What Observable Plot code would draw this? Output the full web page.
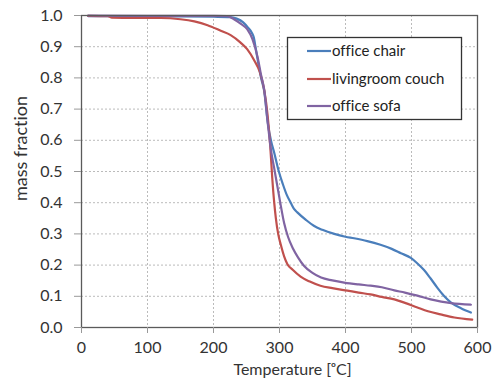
<!DOCTYPE html>
<html><head><meta charset="utf-8">
<script src="https://cdn.jsdelivr.net/npm/d3@7"></script>
<script src="https://cdn.jsdelivr.net/npm/@observablehq/plot@0.6"></script>
<style>body{margin:0;background:#fff} svg text{font-variant-ligatures:none;}</style>
</head><body><div id="chart"></div>
<script>
const seriesNames = ["office chair", "livingroom couch", "office sofa"];
const seriesColors = ["#4a7ebb", "#c0504d", "#8064a2"];
const xTicks = [0, 100, 200, 300, 400, 500, 600];
const yTicks = [0, 0.1, 0.2, 0.3, 0.4, 0.5, 0.6, 0.7, 0.8, 0.9, 1.0];

const chairT = [10,50,100,150,200,225,235,245,252,258,261,264,268,272,277,282,287,292,299,305,311,317,322,327,340,352,365,383,400,413,433,453,470,484,499,509,519,529,539,549,560,575,590];
const chairM = [0.998,0.998,0.997,0.997,0.996,0.995,0.99,0.978,0.962,0.945,0.93,0.895,0.845,0.80,0.755,0.66,0.60,0.56,0.50,0.46,0.425,0.40,0.38,0.369,0.345,0.326,0.313,0.300,0.291,0.286,0.277,0.265,0.252,0.238,0.223,0.205,0.184,0.157,0.128,0.102,0.08,0.062,0.048];

const couchT = [10,40,46,80,120,150,171,191,211,226,241,251,262,270,277,282,286,289,292,294.5,298,302,307,312,320,332,345,362,380,403,420,438,455,474,490,509,525,544,565,592];
const couchM = [0.999,0.998,0.993,0.992,0.992,0.988,0.981,0.969,0.951,0.937,0.913,0.892,0.855,0.82,0.76,0.68,0.58,0.48,0.40,0.35,0.30,0.265,0.228,0.203,0.185,0.163,0.148,0.134,0.126,0.118,0.112,0.106,0.098,0.09,0.079,0.064,0.052,0.042,0.032,0.025];

const sofaT = [10,100,200,221,231,241,251,259,267,272,277,282,287,292,297,302,307,313,320,328,337,350,363,380,398,420,438,455,474,490,509,529,545,560,590];
const sofaM = [1.0,0.999,0.999,0.998,0.988,0.974,0.956,0.924,0.865,0.81,0.76,0.66,0.57,0.51,0.45,0.39,0.335,0.29,0.255,0.225,0.198,0.175,0.16,0.151,0.144,0.138,0.134,0.129,0.119,0.112,0.102,0.09,0.083,0.078,0.073];

const seriesT = [chairT, couchT, sofaT];
const seriesM = [chairM, couchM, sofaM];
const rows = [];
seriesNames.forEach((name, i) => {
  seriesT[i].forEach((t, j) => rows.push({series: name, T: t, m: seriesM[i][j]}));
});

const FONT = "Lato, 'Open Sans', sans-serif";
const plot = Plot.plot({
  width: 495,
  height: 381,
  marginLeft: 81,
  marginRight: 18,
  marginTop: 15,
  marginBottom: 54,
  style: {fontFamily: FONT, fontSize: "16px", color: "#333", background: "#fff"},
  x: {domain: [0, 600]},
  y: {domain: [0, 1]},
  color: {domain: seriesNames, range: seriesColors},
  marks: [
    Plot.gridX(xTicks, {stroke: "#aaa", strokeOpacity: 1, strokeWidth: 0.8, strokeDasharray: "2,2"}),
    Plot.gridY(yTicks, {stroke: "#aaa", strokeOpacity: 1, strokeWidth: 0.8, strokeDasharray: "2,2"}),
    Plot.line(rows, {x: "T", y: "m", z: "series", stroke: "series", strokeWidth: 2.2, curve: "monotone-x"}),
    Plot.frame({stroke: "#5a5a5a", strokeWidth: 1.3}),
    Plot.axisX({ticks: xTicks, tickSize: 6, tickPadding: 8, stroke: "#999", labelOffset: 47, label: "Temperature [ᵒC]", labelAnchor: "center", labelArrow: "none"}),
    Plot.axisY({ticks: yTicks, tickFormat: d3.format(".1f"), tickSize: 7, tickPadding: 12, stroke: "#999", labelOffset: 67, label: "mass fraction", labelAnchor: "center", labelArrow: "none"})
  ]
});

const svg = d3.select(plot);
svg.selectAll('[aria-label="y-axis label"] text').attr("font-size", 18).attr("dx", 23);
svg.selectAll('[aria-label="x-axis label"] text').attr("font-size", 16).attr("dx", 13);

// legend
const lg = svg.append("g").attr("font-family", FONT).attr("font-size", 15).attr("text-anchor", "start");
lg.append("rect").attr("x", 287.5).attr("y", 37.5).attr("width", 174).attr("height", 82)
  .attr("fill", "#fff").attr("stroke", "#333").attr("stroke-width", 1.3);
const legY = [51, 79, 106];
seriesNames.forEach((name, i) => {
  lg.append("line").attr("x1", 307).attr("x2", 331).attr("y1", legY[i]).attr("y2", legY[i])
    .attr("stroke", seriesColors[i]).attr("stroke-width", 2.2);
  lg.append("text").attr("x", 332).attr("y", legY[i]).attr("dy", "0.35em").attr("fill", "#222").text(name);
});

document.getElementById("chart").appendChild(plot);
</script>
</body></html>
